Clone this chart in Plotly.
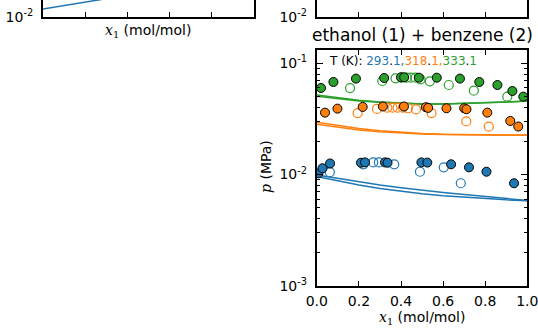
import plotly.graph_objects as go

W, H = 538, 332
BLUE, ORANGE, GREEN = "#1f77b4", "#ff7f0e", "#2ca02c"

# ---------------- data ----------------
temps = ["293.1", "318.1", "333.1"]
colors = [BLUE, ORANGE, GREEN]

# filled (experimental set A)
x_fill_293 = [0.008, 0.027, 0.063, 0.21, 0.229, 0.324, 0.336, 0.497, 0.525, 0.638, 0.723, 0.806, 0.937]
p_fill_293 = [0.01025, 0.01137, 0.01256, 0.01276, 0.01285, 0.01285, 0.01276, 0.01285, 0.0128, 0.01235, 0.0116, 0.01059, 0.00834]
x_fill_318 = [0.039, 0.098, 0.218, 0.314, 0.414, 0.518, 0.529, 0.616, 0.70, 0.711, 0.81, 0.919, 0.957]
p_fill_318 = [0.0360, 0.0391, 0.0405, 0.0409, 0.0409, 0.0403, 0.0397, 0.0394, 0.0394, 0.0386, 0.0360, 0.0303, 0.0270]
x_fill_333 = [0.02, 0.079, 0.186, 0.32, 0.40, 0.415, 0.485, 0.57, 0.68, 0.772, 0.858, 0.929, 0.981]
p_fill_333 = [0.060, 0.0679, 0.0728, 0.0738, 0.0748, 0.0748, 0.0742, 0.0742, 0.0728, 0.0679, 0.0638, 0.0563, 0.0501]

# open (experimental set B)
x_open_293 = [0.062, 0.221, 0.268, 0.295, 0.368, 0.49, 0.603, 0.684]
p_open_293 = [0.0105, 0.01235, 0.01285, 0.01285, 0.01235, 0.01059, 0.0116, 0.00834]
x_open_318 = [0.194, 0.286, 0.335, 0.360, 0.384, 0.409, 0.433, 0.471, 0.545, 0.71, 0.817]
p_open_318 = [0.0357, 0.0389, 0.0399, 0.0399, 0.0399, 0.0399, 0.0394, 0.0385, 0.0357, 0.0300, 0.0269]
x_open_333 = [0.158, 0.311, 0.374, 0.403, 0.427, 0.447, 0.469, 0.493, 0.537, 0.627, 0.746, 0.905]
p_open_333 = [0.0598, 0.0693, 0.0733, 0.0742, 0.0742, 0.0742, 0.0742, 0.0718, 0.0689, 0.0638, 0.0567, 0.0501]

# model curves
x_line = [0.0, 0.1, 0.2, 0.3, 0.4, 0.5, 0.6, 0.7, 0.8, 0.9, 1.0]
p_line_293a = [0.00990, 0.00920, 0.00856, 0.00805, 0.00761, 0.00722, 0.00689, 0.00661, 0.00634, 0.00608, 0.00584]
p_line_293b = [0.00959, 0.00874, 0.00805, 0.00748, 0.00706, 0.00672, 0.00645, 0.00624, 0.00606, 0.00592, 0.00581]
p_line_318a = [0.02946, 0.02742, 0.02587, 0.02472, 0.02391, 0.02332, 0.02298, 0.02279, 0.02270, 0.02265, 0.02265]
p_line_318b = [0.02827, 0.02647, 0.02513, 0.02421, 0.02361, 0.02313, 0.02284, 0.02265, 0.02256, 0.02251, 0.02251]
p_line_333a = [0.05188, 0.04896, 0.04659, 0.04488, 0.04369, 0.04305, 0.04305, 0.04350, 0.04414, 0.04488, 0.04581]
p_line_333b = [0.05060, 0.04795, 0.04592, 0.04460, 0.04355, 0.04300, 0.04300, 0.04345, 0.04410, 0.04485, 0.04578]

# partial neighbouring panel (top-left)
x_tl = [0.0, 0.1, 0.2, 0.3]
p_tl = [0.01172, 0.01259, 0.01352, 0.01452]

title_text = "ethanol (1) + benzene (2)"
xlabel_text = "(mol/mol)"
ylabel_text = "(MPa)"
x_ticks = [0.0, 0.2, 0.4, 0.6, 0.8, 1.0]
x_ticktext = ["0.0", "0.2", "0.4", "0.6", "0.8", "1.0"]
y_ticks = [1e-3, 1e-2, 1e-1]
y_ticktext = ["10<sup>-3</sup>", "10<sup>-2</sup>", "10<sup>-1</sup>"]

# ---------------- figure ----------------
def px_x(v):
    return v / W

def px_y(v):
    return 1 - v / H

fig = go.Figure()

FONT = "DejaVu Sans"
lines = [(p_line_293a, p_line_293b, BLUE), (p_line_318a, p_line_318b, ORANGE), (p_line_333a, p_line_333b, GREEN)]
for pa, pb, c in lines:
    for pp in (pa, pb):
        fig.add_trace(go.Scatter(x=x_line, y=pp, mode="lines", line=dict(color=c, width=1.5),
                                 xaxis="x3", yaxis="y3", showlegend=False, hoverinfo="skip"))

opens = [(x_open_293, p_open_293, BLUE), (x_open_318, p_open_318, ORANGE), (x_open_333, p_open_333, GREEN)]
for xx, pp, c in opens:
    fig.add_trace(go.Scatter(x=xx, y=pp, mode="markers",
                             marker=dict(symbol="circle-open", size=9, color=c, line=dict(width=1.2, color=c)),
                             xaxis="x3", yaxis="y3", showlegend=False))

fills = [(x_fill_293, p_fill_293, BLUE), (x_fill_318, p_fill_318, ORANGE), (x_fill_333, p_fill_333, GREEN)]
for xx, pp, c in fills:
    fig.add_trace(go.Scatter(x=xx, y=pp, mode="markers",
                             marker=dict(symbol="circle", size=9, color=c, line=dict(width=1, color="black")),
                             xaxis="x3", yaxis="y3", showlegend=False))

fig.add_trace(go.Scatter(x=x_tl, y=p_tl, mode="lines", line=dict(color=BLUE, width=1.5),
                         xaxis="x", yaxis="y", showlegend=False))
fig.add_trace(go.Scatter(x=[None], y=[None], mode="lines", xaxis="x2", yaxis="y2", showlegend=False))

tickfont = dict(family=FONT, size=14, color="black")
base = dict(showline=True, linecolor="black", linewidth=2, ticks="inside", tickcolor="black",
            tickwidth=1, showgrid=False, zeroline=False, tickfont=tickfont, automargin=False)
minor_vals = [m * 10.0 ** e for e in (-3, -2, -1) for m in range(2, 10)]
minor = dict(ticks="inside", ticklen=3.5, tickcolor="black", tickwidth=1, tickmode="array", tickvals=minor_vals, showgrid=False)

top_dom = [px_y(16.7), 1.0]
main_xdom = [px_x(316.8), px_x(527.3)]
tl_xdom = [px_x(43), px_x(254)]
main_ydom = [px_y(285.7), px_y(49.5)]

fig.update_layout(
    width=W, height=H, margin=dict(l=0, r=0, t=0, b=0),
    paper_bgcolor="white", plot_bgcolor="white", showlegend=False,
    xaxis=dict(base, domain=tl_xdom, range=[0, 1], anchor="y", tickvals=x_ticks[1:-1],
               showticklabels=False, ticklen=5),
    yaxis=dict(base, domain=top_dom, type="log", range=[-2, -1.85], anchor="x", mirror=True,
               tickvals=y_ticks, ticktext=y_ticktext, ticklen=6, ticklabelstandoff=5,
               ticklabeloverflow="allow"),
    xaxis2=dict(base, domain=main_xdom, range=[0, 1], anchor="y2", tickvals=x_ticks[1:-1],
                showticklabels=False, ticklen=5),
    yaxis2=dict(base, domain=top_dom, type="log", range=[-2, -1.85], anchor="x2", mirror=True,
                tickvals=y_ticks, ticktext=y_ticktext, ticklen=6, ticklabelstandoff=5,
                ticklabeloverflow="allow"),
    xaxis3=dict(base, domain=main_xdom, range=[0, 1], anchor="y3", mirror="ticks",
                tickvals=x_ticks, ticktext=x_ticktext, ticklen=5, ticklabelstandoff=1,
                ticklabeloverflow="allow"),
    yaxis3=dict(base, domain=main_ydom, type="log", range=[-3, -0.876], anchor="x3", mirror="ticks",
                tickvals=y_ticks, ticktext=y_ticktext, ticklen=6, minor=minor, ticklabelstandoff=5,
                ticklabeloverflow="allow"),
)

serif_x = "<span style=\"font-family:'DejaVu Serif'\"><i>x</i><sub>1</sub></span> "
serif_p = "<span style=\"font-family:'DejaVu Serif'\"><i>p</i></span> "

# commas in colour of preceding value, decimal points dark
temp_parts = []
for i, (t, c) in enumerate(zip(temps, colors)):
    a, b = t.split(".")
    sep = "," if i < len(temps) - 1 else ""
    temp_parts.append(f'<span style="color:{c}">{a}</span>.<span style="color:{c}">{b}{sep}</span>')
temp_text = "T (K): " + "".join(temp_parts)

anns = [
    dict(text=serif_x + xlabel_text, x=px_x(148.5), y=px_y(31), size=14),
    dict(text=title_text, x=px_x(422), y=px_y(35), size=17),
    dict(text=serif_x + xlabel_text, x=px_x(421.7), y=px_y(317.5), size=14),
]
for a in anns:
    fig.add_annotation(text=a["text"], x=a["x"], y=a["y"], xref="paper", yref="paper",
                       xanchor="center", yanchor="middle", showarrow=False,
                       font=dict(family=FONT, size=a["size"], color="black"))
fig.add_annotation(text=serif_p + ylabel_text, x=px_x(266), y=px_y(167), xref="paper", yref="paper",
                   xanchor="center", yanchor="middle", showarrow=False, textangle=-90,
                   font=dict(family=FONT, size=14, color="black"))
fig.add_annotation(text=temp_text, x=px_x(327), y=px_y(61), xref="paper", yref="paper",
                   xanchor="left", yanchor="middle", showarrow=False,
                   font=dict(family=FONT, size=12, color="black"))

fig.write_html("out.html")
